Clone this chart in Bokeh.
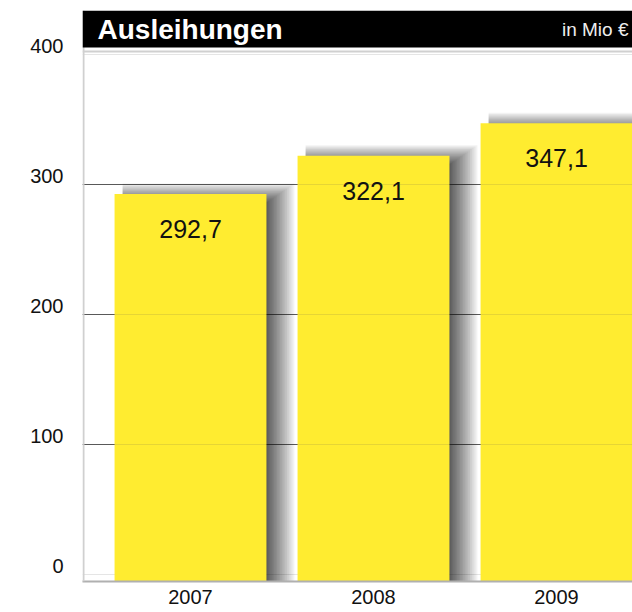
from bokeh.plotting import figure
from bokeh.models import (Range1d, LinearAxis, FixedTicker, Grid, Label, Span,
                          BoxAnnotation, ColumnDataSource)
from bokeh.transform import dodge
from bokeh.core.properties import value
from bokeh.embed import file_html
from bokeh.resources import INLINE

# ---- data ----
years = [2007, 2008, 2009]
values = [292.7, 322.1, 347.1]
y_ticks = [0, 100, 200, 300, 400]
grid_ticks = [100, 200, 300]
title_text = "Ausleihungen"
unit_text = "in Mio €"

labels = [f"{v:.1f}".replace(".", ",") for v in values]

FONT = "Liberation Sans"
BAR_COLOR = "#FFEC30"
BAR_W = 0.83
W, H = 632, 612
BL, BT, BB = 82, 10, 31
FW, FH = W - BL, H - BT - BB
PX_X = 183.0
X_MIN = 2006.4098
X_MAX = X_MIN + FW / PX_X
PX_Y = 1.3
ZERO_PX = 7                      # zero line sits 7px above the frame bottom
Y_MIN = -ZERO_PX / PX_Y
Y_MAX = Y_MIN + FH / PX_Y
TITLE_BOTTOM = Y_MAX - 37 / PX_Y  # black title band 37px tall
TOP_LINE = Y_MAX - 41 / PX_Y
LAB_SHIFT = 9 / PX_Y

src = ColumnDataSource(dict(year=years, value=values, label=labels,
                            base=[Y_MIN] * len(years)))

p = figure(width=W, height=H, output_backend="svg", toolbar_location=None,
           x_range=Range1d(X_MIN, X_MAX), y_range=Range1d(Y_MIN, Y_MAX),
           y_axis_location=None, min_border_left=BL, min_border_top=BT,
           min_border_bottom=BB, min_border_right=0)
p.outline_line_color = None
p.background_fill_color = "white"
p.border_fill_color = "white"
p.xgrid.visible = False

# gridlines (under)
p.add_layout(Grid(dimension=1, ticker=FixedTicker(ticks=grid_ticks),
                  grid_line_color="#5a5a5a", grid_line_width=1))

# soft shadows (stacked translucent layers, fading to the right and top)
N_SH = 19
SH_LEFT = 8
for i in range(1, N_SH + 1):
    r = 28 * (i / N_SH) ** 1.3
    t = 0.7 * r - 9
    p.vbar(x=dodge("year", (SH_LEFT + r) / 2 / PX_X, range=p.x_range),
           width=BAR_W + (r - SH_LEFT) / PX_X,
           top=dodge("value", t / PX_Y, range=p.y_range), bottom="base",
           source=src, fill_color="black", fill_alpha=0.05, line_color=None)

# bars
p.vbar(x="year", width=BAR_W, top="value", bottom="base", source=src,
       fill_color=BAR_COLOR, line_color=None)

# faint gridline over bars
p.add_layout(Grid(dimension=1, ticker=FixedTicker(ticks=grid_ticks), level="overlay",
                  grid_line_color="#5a5a5a", grid_line_alpha=0.15, grid_line_width=1))

# value labels
p.text(x="year", y="value", text="label", source=src, text_align="center",
       text_baseline="middle", y_offset=35, text_font=value(FONT),
       text_font_size="25px", text_color="#111111")

# frame lines (top and left)
p.add_layout(Span(location=TOP_LINE, dimension="width", line_color="#d0d0d0", line_width=2))
p.add_layout(Span(location=X_MIN + 1 / PX_X, dimension="height",
                  line_color="#d0d0d0", line_width=2))

# x axis
xa = p.xaxis[0]
xa.ticker = FixedTicker(ticks=years)
xa.major_tick_out = 0
xa.major_tick_in = 0
xa.minor_tick_out = 0
xa.minor_tick_in = 0
xa.axis_line_color = "#b0b0b0"
xa.axis_line_width = 2
xa.major_label_standoff = 8
xa.major_label_text_font = FONT
xa.major_label_text_font_size = "20px"
xa.major_label_text_color = "#111111"

# y axis (labels sit slightly above their gridlines)
p.extra_y_ranges = {"lab": Range1d(Y_MIN - LAB_SHIFT, Y_MAX - LAB_SHIFT)}
ya = LinearAxis(y_range_name="lab", ticker=FixedTicker(ticks=y_ticks),
                major_tick_out=0, major_tick_in=0, minor_tick_out=0, minor_tick_in=0,
                axis_line_color=None, major_label_standoff=19,
                major_label_text_font=FONT, major_label_text_font_size="20px",
                major_label_text_color="#111111")
p.add_layout(ya, "left")

# title band
p.add_layout(BoxAnnotation(bottom=TITLE_BOTTOM, top=Y_MAX, fill_color="black",
                           fill_alpha=1.0, line_color=None, level="overlay"))
p.add_layout(Label(x=97, y=29, x_units="canvas", y_units="canvas", text=title_text,
                   text_font=FONT, text_font_style="bold", text_font_size="28px",
                   text_color="white", text_align="left", text_baseline="middle",
                   level="overlay"))
p.add_layout(Label(x=628, y=29, x_units="canvas", y_units="canvas", text=unit_text,
                   text_font=FONT, text_font_size="19px", text_align="right",
                   text_color="#eeeeee", text_baseline="middle", level="overlay"))

open("out.html", "w").write(file_html(p, INLINE))
